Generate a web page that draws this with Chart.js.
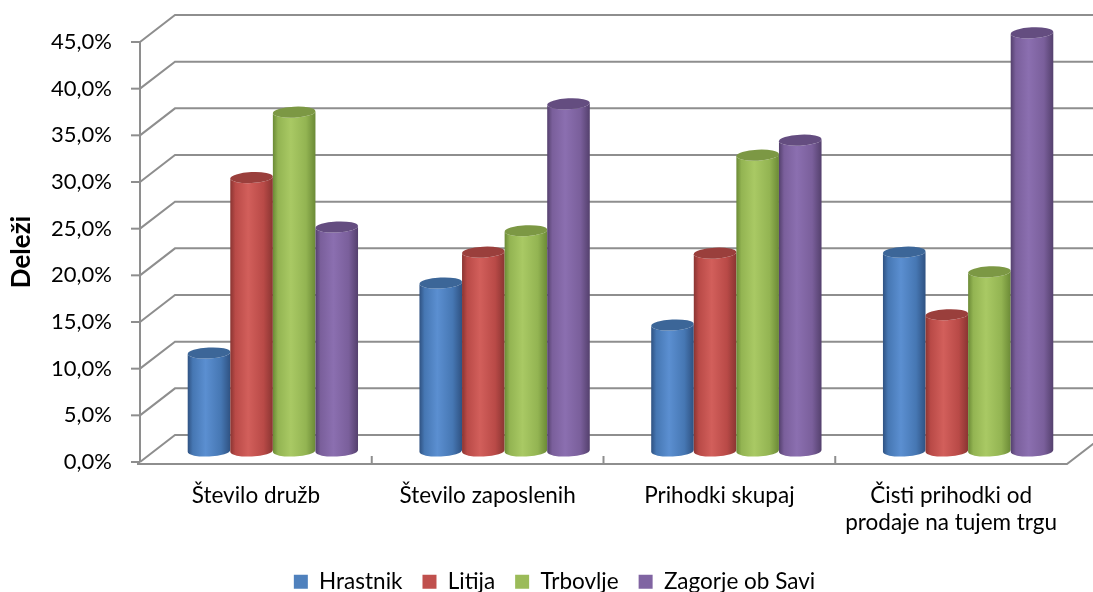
<!DOCTYPE html>
<html><head><meta charset="utf-8">
<script src="https://cdn.jsdelivr.net/npm/chart.js@4.4.1/dist/chart.umd.min.js"></script>
<style>html,body{margin:0;padding:0;background:#fff;overflow:hidden}#wrap{width:1093px;height:592px;overflow:hidden;position:relative}</style>
</head><body><div id="wrap"><canvas id="c" width="1093" height="603"></canvas></div>
<script>
const categories = [["Število družb"], ["Število zaposlenih"], ["Prihodki skupaj"], ["Čisti prihodki od", "prodaje na tujem trgu"]];
const seriesNames = ["Hrastnik", "Litija", "Trbovlje", "Zagorje ob Savi"];
const hrastnik = [10.5, 18.0, 13.5, 21.3];
const litija   = [29.3, 21.3, 21.2, 14.6];
const trbovlje = [36.3, 23.6, 31.7, 19.2];
const zagorje  = [24.0, 37.2, 33.3, 44.8];
const yTicks = [0, 5, 10, 15, 20, 25, 30, 35, 40, 45];

const seriesValues = [hrastnik, litija, trbovlje, zagorje];
const pal = [
  {base:'#4F81BD', dark:'#2f5282', mid:'#4677b3', light:'#5b8fd1', top:'#3c6698'},
  {base:'#C0504D', dark:'#8a3532', mid:'#b94a47', light:'#d25f5b', top:'#9a3f3c'},
  {base:'#9BBB59', dark:'#6b8a36', mid:'#93b452', light:'#a9c964', top:'#7c9844'},
  {base:'#8064A2', dark:'#54406d', mid:'#7a5f9b', light:'#8b6fb0', top:'#644d80'}
];
const DX = 17, DY = -11, WX = 35, WY = -27;

function drawCyl(ctx, cx, top, base, w, p) {
  const r = w / 2, ry = 5.5, rot = -0.05;
  const g = ctx.createLinearGradient(cx - r, 0, cx + r, 0);
  g.addColorStop(0, p.dark); g.addColorStop(0.12, p.mid); g.addColorStop(0.42, p.light);
  g.addColorStop(0.78, p.mid); g.addColorStop(1, p.dark);
  ctx.beginPath();
  ctx.moveTo(cx - r, top);
  ctx.lineTo(cx - r, base);
  ctx.ellipse(cx, base, r, ry, rot, Math.PI, 0, true);
  ctx.lineTo(cx + r, top);
  ctx.ellipse(cx, top, r, ry, rot, 0, Math.PI, false);
  ctx.closePath();
  ctx.fillStyle = g; ctx.fill();
  ctx.beginPath(); ctx.ellipse(cx, top, r, ry, rot, 0, Math.PI * 2);
  ctx.fillStyle = p.top; ctx.fill();
}

const scene = {
  id: 'scene',
  afterLayout(chart) {
    const lg = chart.legend;
    if (lg) { lg.left += 21; lg.right += 21; }
  },
  beforeDatasetsDraw(chart) {
    const {ctx, chartArea: a, scales: {x, y}} = chart;
    ctx.save();
    ctx.strokeStyle = '#8e8e8e'; ctx.lineWidth = 2;
    yTicks.forEach(v => {
      const py = y.getPixelForValue(v);
      ctx.beginPath(); ctx.moveTo(a.left, py); ctx.lineTo(a.left + WX, py + WY); ctx.lineTo(chart.width + 10, py + WY); ctx.stroke();
      ctx.beginPath(); ctx.moveTo(a.left - 9, py); ctx.lineTo(a.left, py); ctx.stroke();
    });
    ctx.beginPath(); ctx.moveTo(a.left, a.top); ctx.lineTo(a.left, a.bottom); ctx.stroke();
    const fy = a.bottom + 2;
    ctx.beginPath(); ctx.moveTo(a.left - 3, fy); ctx.lineTo(a.right, fy); ctx.lineTo(a.right + WX, fy + WY); ctx.stroke();
    for (let i = 0; i < categories.length - 1; i++) {
      const px = x.getPixelForValue(i + 0.5);
      ctx.beginPath(); ctx.moveTo(px, fy); ctx.lineTo(px, fy - 8); ctx.stroke();
    }
    chart.data.datasets.forEach((ds, di) => {
      chart.getDatasetMeta(di).data.forEach(el => {
        drawCyl(ctx, el.x + DX, el.y + DY, el.base + DY, el.width, pal[di]);
      });
    });
    ctx.restore();
    return false;
  }
};

const FONT = 'Lato';
new Chart(document.getElementById('c'), {
  type: 'bar',
  data: {
    labels: categories,
    datasets: seriesNames.map((n, i) => ({
      label: n, data: seriesValues[i], backgroundColor: pal[i].base, borderWidth: 0,
      barPercentage: 1, categoryPercentage: 0.735
    }))
  },
  options: {
    responsive: false, animation: false, devicePixelRatio: 1,
    layout: {padding: {top: 42, right: 26, left: 0, bottom: 0}},
    plugins: {
      tooltip: {enabled: false},
      legend: {
        position: 'bottom',
        labels: {font: {family: FONT, size: 22.5}, color: '#000', boxWidth: 14, boxHeight: 14, padding: 20}
      }
    },
    scales: {
      x: {
        grid: {display: false, drawTicks: false}, border: {display: false},
        ticks: {font: {family: FONT, size: 22.5}, color: '#000', padding: 20, maxRotation: 0, autoSkip: false},
        afterFit(s) { s.height = s.chart.height - 462 - s.chart.legend.height; }
      },
      y: {
        min: 0, max: 45,
        grid: {display: false, drawTicks: false}, border: {display: false},
        ticks: {stepSize: 5, font: {family: FONT, size: 22}, color: '#000', padding: 28,
          callback: v => v.toFixed(1).replace('.', ',') + '%'},
        title: {display: true, text: 'Deleži', color: '#000', font: {family: FONT, size: 26, weight: 'bold'}, padding: {top: 6, bottom: 0}},
        afterFit(s) { s.width = 140; }
      }
    }
  },
  plugins: [scene]
});
</script></body></html>
